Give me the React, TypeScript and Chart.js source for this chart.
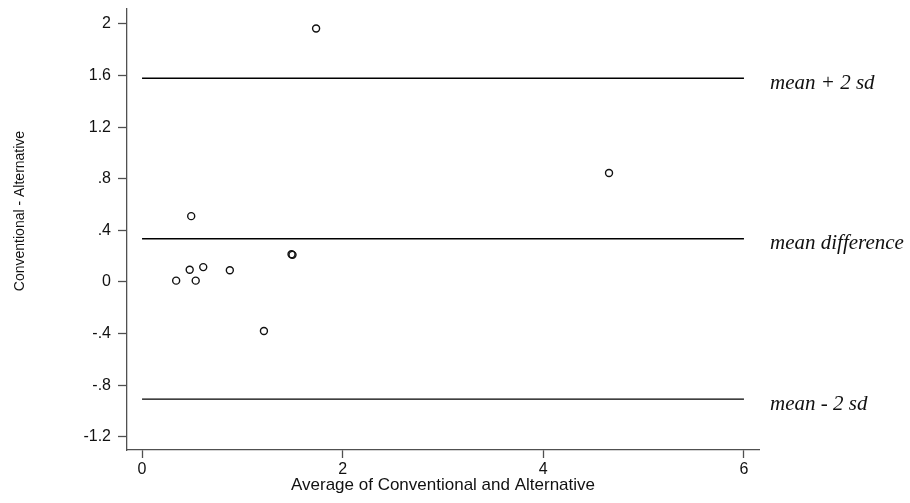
import React, { useEffect, useRef } from "react";
import { Chart, registerables } from "chart.js";

Chart.register(...registerables);

// Bland–Altman data: mean of the two methods vs. their difference
const averages = [0.34, 0.475, 0.49, 0.535, 0.61, 0.875, 1.215, 1.49, 1.5, 1.735, 4.655];
const differences = [0.01, 0.095, 0.51, 0.01, 0.115, 0.09, -0.38, 0.215, 0.21, 1.965, 0.845];

const xTicks = [0, 2, 4, 6];
const yTicks = [-1.2, -0.8, -0.4, 0, 0.4, 0.8, 1.2, 1.6, 2];

const xTitle = "Average of Conventional and Alternative";
const yTitle = "Conventional - Alternative";
const refLabels = ["mean + 2 sd", "mean difference", "mean - 2 sd"];

const meanDiff = differences.reduce((s, v) => s + v, 0) / differences.length;
const sdDiff = Math.sqrt(
  differences.reduce((s, v) => s + (v - meanDiff) ** 2, 0) / (differences.length - 1)
);
const refValues = [meanDiff + 2 * sdDiff, meanDiff, meanDiff - 2 * sdDiff];

const SANS = '"Liberation Sans", Arial, Helvetica, sans-serif';
const SERIF = '"Liberation Serif", "Times New Roman", serif';
const INK = "#111";
const AXIS = "#505050";

// Format ticks Stata-style: drop the leading zero (".4", "-.8")
const fmt = (v: number) => {
  const r = Math.round(v * 10) / 10;
  return String(r).replace(/^(-?)0\./, "$1.");
};

const labelPlugin = {
  id: "baLabels",
  afterDatasetsDraw(chart: any) {
    const { ctx } = chart;
    const y = chart.scales.y;
    ctx.save();
    ctx.fillStyle = INK;
    // rotated y-axis title
    ctx.save();
    ctx.translate(20, 211);
    ctx.rotate(-Math.PI / 2);
    ctx.font = `14px ${SANS}`;
    ctx.textAlign = "center";
    ctx.textBaseline = "middle";
    ctx.fillText(yTitle, 0, 0);
    ctx.restore();
    // reference line captions
    ctx.font = `italic 21px ${SERIF}`;
    ctx.textAlign = "left";
    ctx.textBaseline = "alphabetic";
    refValues.forEach((v, i) => {
      const py = y.getPixelForValue(v);
      ctx.fillText(refLabels[i], 770, py + 10.6);
    });
    ctx.restore();
  },
};

export default function App() {
  const canvasRef = useRef<HTMLCanvasElement | null>(null);

  useEffect(() => {
    if (!canvasRef.current) return;
    const refDatasets = refValues.map((v) => ({
      type: "line" as const,
      data: [
        { x: xTicks[0], y: v },
        { x: xTicks[xTicks.length - 1], y: v },
      ],
      borderColor: "#000",
      borderWidth: 1.4,
      pointRadius: 0,
      fill: false,
    }));

    const chart = new Chart(canvasRef.current, {
      type: "scatter",
      data: {
        datasets: [
          ...refDatasets,
          {
            type: "scatter" as const,
            data: averages.map((a, i) => ({ x: a, y: differences[i] })),
            pointStyle: "circle",
            pointRadius: 3.5,
            borderWidth: 1.4,
            borderColor: INK,
            backgroundColor: "rgba(0,0,0,0)",
          },
        ],
      } as any,
      options: {
        animation: false,
        responsive: false,
        layout: { padding: { top: 9, right: 151, left: 0, bottom: 0 } },
        plugins: {
          legend: { display: false },
          tooltip: { enabled: false },
        },
        scales: {
          x: {
            type: "linear",
            min: -0.15,
            max: 6.15,
            afterBuildTicks: (s: any) => {
              s.ticks = xTicks.map((v) => ({ value: v }));
            },
            afterFit: (s: any) => {
              s.height = 53;
              s.paddingLeft = 0;
              s.paddingRight = 0;
            },
            border: { display: true, color: AXIS, width: 1.3 },
            grid: {
              display: true,
              drawOnChartArea: false,
              drawTicks: true,
              tickLength: 8,
              tickColor: AXIS,
              tickWidth: 1.3,
            },
            ticks: {
              padding: 2,
              color: INK,
              font: { family: SANS, size: 16 },
              maxRotation: 0,
              callback: (v: any) => fmt(Number(v)),
            },
            title: {
              display: true,
              text: xTitle,
              color: INK,
              font: { family: SANS, size: 17 },
              padding: { top: 0, bottom: 7.5 },
            },
          },
          y: {
            type: "linear",
            min: -1.303,
            max: 2.116,
            afterBuildTicks: (s: any) => {
              s.ticks = yTicks.map((v) => ({ value: v }));
            },
            afterFit: (s: any) => {
              s.width = 127;
              s.paddingTop = 0;
              s.paddingBottom = 0;
            },
            border: { display: true, color: AXIS, width: 1.3 },
            grid: {
              display: true,
              drawOnChartArea: false,
              drawTicks: true,
              tickLength: 9,
              tickColor: AXIS,
              tickWidth: 1.3,
            },
            ticks: {
              padding: 7,
              color: INK,
              font: { family: SANS, size: 16 },
              callback: (v: any) => fmt(Number(v)),
            },
          },
        },
      } as any,
      plugins: [labelPlugin],
    });
    return () => chart.destroy();
  }, []);

  return (
    <div style={{ position: "absolute", left: 0, top: 0, width: 910, height: 503, background: "#fff" }}>
      <canvas ref={canvasRef} width={910} height={503} style={{ display: "block" }} />
    </div>
  );
}
